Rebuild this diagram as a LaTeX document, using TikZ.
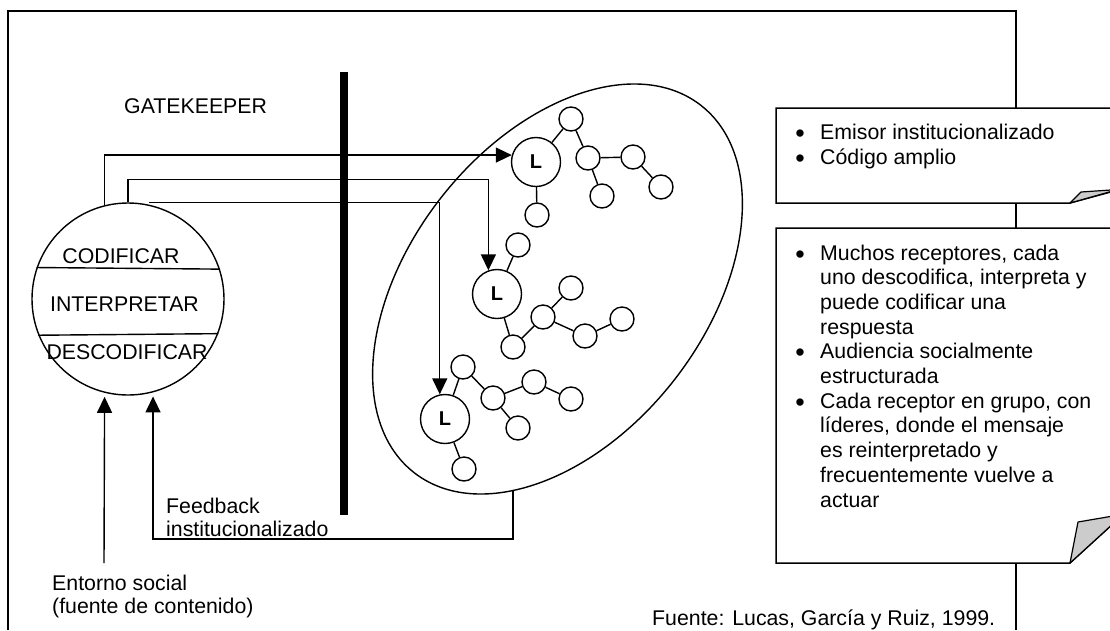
\documentclass[tikz,border=0pt]{standalone}
\usepackage{fontspec}
\setmainfont{Liberation Sans}
\usetikzlibrary{arrows.meta,calc}
\begin{document}
\begin{tikzpicture}[x=1pt,y=-1pt,
  conn/.style={line width=1.4pt},
  txt/.style={font=\fontsize{21.3}{24.6}\selectfont, inner sep=0pt, anchor=base west},
  ctxt/.style={font=\fontsize{21.3}{24.6}\selectfont, inner sep=0pt, anchor=base},
  bul/.style={font=\fontsize{27}{30}\selectfont, inner sep=0pt, anchor=base, yshift=-3pt},
  small/.style={circle,draw,line width=1.4pt,minimum size=24pt,inner sep=0pt},
  lead/.style={circle,draw,line width=1.4pt,minimum size=49pt,inner sep=0pt,font=\fontsize{20}{24}\selectfont\bfseries},
  arr/.style={line width=1.4pt,-{Triangle[length=16pt,width=15pt]}},
  boxstyle/.style={draw,fill=white,line width=1.5pt,line join=miter},
  curl/.style={draw,fill=black!20,line width=1.2pt,line join=round},
]
\useasboundingbox (0,0) rectangle (1110,630);
% outer frame
\draw[line width=2pt] (8,630) -- (8,11) -- (1016,11) -- (1016,630);
% gatekeeper bar
\fill (340,72) rectangle (348,515);
\node[txt] (gk) at (124,113) {GATEKEEPER};

% coder circle
\node[circle,draw,line width=1.4pt,minimum size=192pt,inner sep=0pt] (coder) at (128,299) {};
\draw[conn] (coder.161.16) -- (coder.18.84);
\draw[conn] (coder.-158.6) -- (coder.-21.4);
\node[ctxt] (cod) at (121,263) {CODIFICAR};
\node[ctxt] (int) at (124.5,311) {INTERPRETAR};
\node[ctxt] (des) at (127,359) {DESCODIFICAR};

% audience ellipse
\draw[line width=1.4pt, rotate around={52:(557.5,289)}] (557.5,289) ellipse [x radius=233pt, y radius=148pt];

% group 1
\node[lead] (L1) at (536,162) {L};
\node[small] (a) at (571,119) {};
\node[small] (b) at (588,158) {};
\node[small] (c) at (633,157) {};
\node[small] (d) at (661,187) {};
\node[small] (e) at (602,196) {};
\node[small] (f) at (537,215) {};
\draw[conn] (L1) -- (a) (a) -- (b) (b) -- (c) (c) -- (d) (b) -- (e) (L1) -- (f);
% group 2
\node[lead] (L2) at (497,294) {L};
\node[small] (g) at (518,245) {};
\node[small] (h) at (513,347) {};
\node[small] (i) at (543,317) {};
\node[small] (j) at (571,288) {};
\node[small] (k) at (585,336) {};
\node[small] (m) at (622,319) {};
\draw[conn] (L2) -- (g) (L2) -- (h) (h) -- (i) (i) -- (j) (i) -- (k) (k) -- (m);
% group 3
\node[lead] (L3) at (445,419) {L};
\node[small] (n) at (463,367) {};
\node[small] (o) at (493,398) {};
\node[small] (p) at (534,382) {};
\node[small] (q) at (571,399) {};
\node[small] (r) at (518,428) {};
\node[small] (s) at (464,469) {};
\draw[conn] (L3) -- (n) (n) -- (o) (o) -- (p) (p) -- (q) (o) -- (r) (L3) -- (s);

% arrows from coder to leaders
\draw[arr] (coder.104.5) |- (L1.164.6);
\draw[arr] (coder.north) -- ++(0,-23) -| (L2.110.5);
\draw[arr] ($(coder.north)+(21,0)$) -| (L3.102);

% feedback
\coordinate (fb) at (513,490.5);
\draw[arr,shorten >=4pt] (fb) -- ++(0,48.5) -| (coder.-75.5);
\node[txt] (fb1) at (166,513) {Feedback};
\node[txt] (fb2) at (166,536) {institucionalizado};

% social environment
\coordinate (src) at (104,563);
\draw[arr,shorten >=4pt] (src) -- (coder.-104.5);
\node[txt] (ent1) at (52,590) {Entorno social};
\node[txt] (ent2) at (52,613) {(fuente de contenido)};

\node[txt] (fuente) at (652,625) {Fuente: Lucas, García y Ruiz, 1999.};

% box 1
\draw[boxstyle] (776,108) -- (1125,108) -- (1125,190) -- (1118,190) -- (1070,203) -- (776,203) -- cycle;
\draw[curl] (1070,203) -- (1081,192) -- (1118,189.5) -- cycle;
\node[bul] (b1a) at (800,139) {•};
\node[txt] (t1a) at (820,139) {Emisor institucionalizado};
\node[bul] (b1b) at (800,164) {•};
\node[txt] (t1b) at (820,164) {Código amplio};

% box 2
\draw[boxstyle] (776,228) -- (1125,228) -- (1125,521) -- (1116,521) -- (1070,563) -- (776,563) -- cycle;
\draw[curl] (1070,563) -- (1078,522) -- (1116,515.5) -- (1116,521) -- cycle;
\node[bul] (b2a) at (800,260) {•};
\node[txt] (t2a) at (820,260) {Muchos receptores, cada};
\node[txt] (t2b) at (820,284.7) {uno descodifica, interpreta y};
\node[txt] (t2c) at (820,309.4) {puede codificar una};
\node[txt] (t2d) at (820,334.1) {respuesta};
\node[bul] (b2b) at (800,358.8) {•};
\node[txt] (t2e) at (820,358.8) {Audiencia socialmente};
\node[txt] (t2f) at (820,383.5) {estructurada};
\node[bul] (b2c) at (800,408.2) {•};
\node[txt] (t2g) at (820,408.2) {Cada receptor en grupo, con};
\node[txt] (t2h) at (820,432.9) {líderes, donde el mensaje};
\node[txt] (t2i) at (820,457.6) {es reinterpretado y};
\node[txt] (t2j) at (820,482.3) {frecuentemente vuelve a};
\node[txt] (t2k) at (820,507) {actuar};
\end{tikzpicture}
\end{document}
